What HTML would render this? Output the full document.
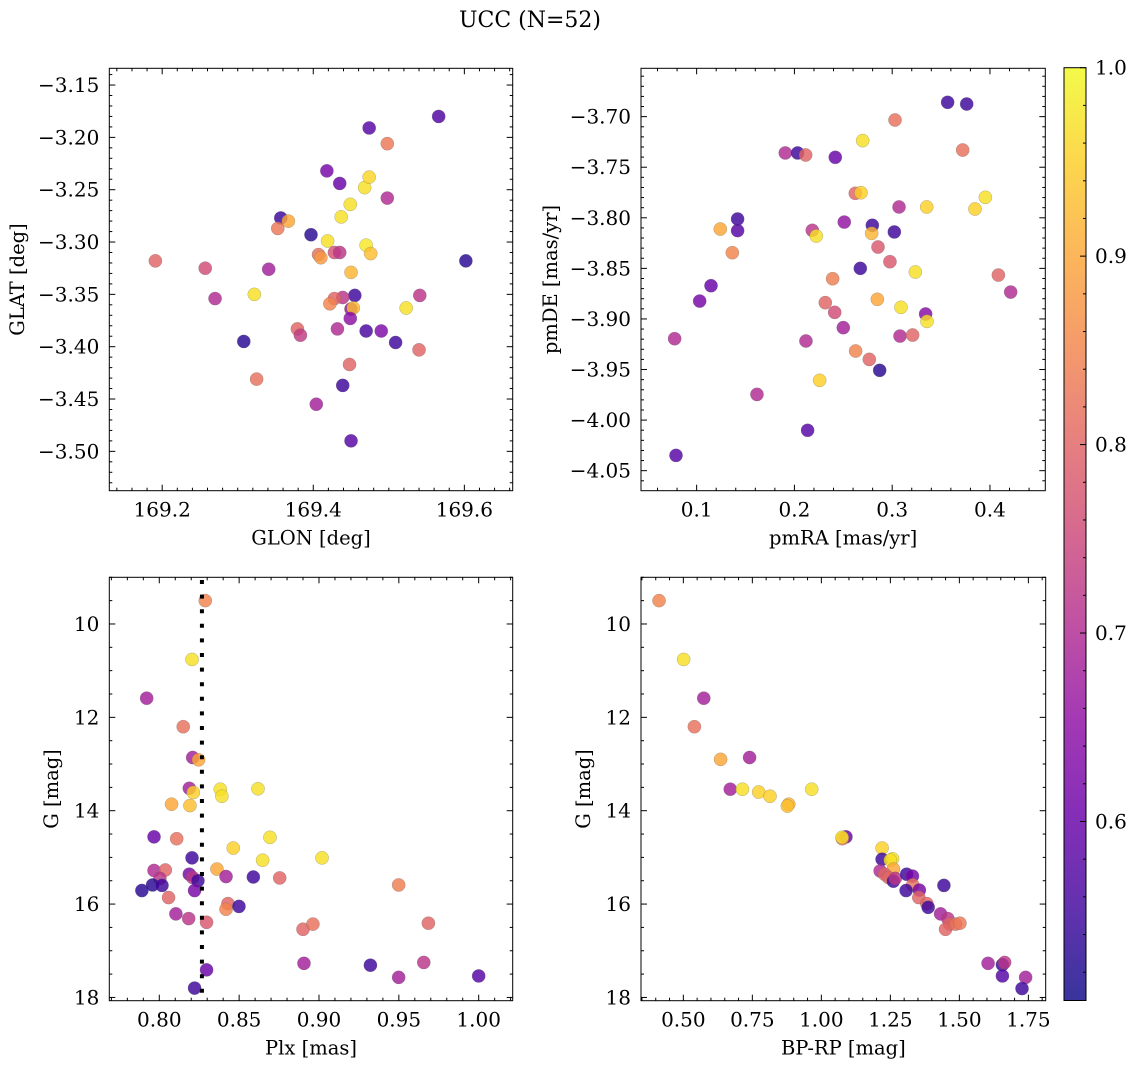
<!DOCTYPE html>
<html><head><meta charset="utf-8"><style>
html,body{margin:0;padding:0;background:#fff;}
svg{display:block;font-family:"DejaVu Serif","Liberation Serif",serif;}
</style></head><body>
<svg id="fig" width="1136" height="1067" xmlns="http://www.w3.org/2000/svg">
<defs>
<linearGradient id="plasma" x1="0" y1="1" x2="0" y2="0">
<stop offset="0" stop-color="#0d0887"/><stop offset="0.1" stop-color="#41049d"/><stop offset="0.2" stop-color="#6a00a8"/><stop offset="0.3" stop-color="#8f0da4"/><stop offset="0.4" stop-color="#b12a90"/><stop offset="0.5" stop-color="#cc4778"/><stop offset="0.6" stop-color="#e16462"/><stop offset="0.7" stop-color="#f2844b"/><stop offset="0.8" stop-color="#fca636"/><stop offset="0.9" stop-color="#fcce25"/><stop offset="1" stop-color="#f0f921"/>
</linearGradient>
</defs>
<text x="530" y="27" font-size="22" text-anchor="middle">UCC (N=52)</text>
</svg>
<script>
// ---- Data: top-left (GLON vs GLAT)
const tlX=[169.191,169.257,169.270,169.341,169.308,169.322,169.325,169.357,169.367,169.353,169.397,169.379,169.383,169.418,169.435,169.419,169.407,169.410,169.428,169.435,169.437,169.449,169.468,169.474,169.474,169.498,169.498,169.470,169.476,169.450,169.455,169.439,169.428,169.422,169.450,169.453,169.449,169.432,169.470,169.490,169.509,169.540,169.541,169.523,169.448,169.439,169.404,169.450,169.566,169.602];
const tlY=[-3.318,-3.325,-3.354,-3.326,-3.395,-3.350,-3.431,-3.277,-3.280,-3.287,-3.293,-3.383,-3.389,-3.232,-3.244,-3.299,-3.312,-3.315,-3.310,-3.310,-3.276,-3.264,-3.248,-3.238,-3.191,-3.206,-3.258,-3.303,-3.311,-3.329,-3.351,-3.353,-3.354,-3.359,-3.364,-3.363,-3.373,-3.383,-3.385,-3.385,-3.396,-3.403,-3.351,-3.363,-3.417,-3.437,-3.455,-3.490,-3.180,-3.318];
const tlC=[0.8,0.76,0.7,0.68,0.53,0.97,0.82,0.55,0.9,0.83,0.53,0.8,0.73,0.62,0.6,0.97,0.82,0.88,0.77,0.72,0.97,0.97,0.97,0.96,0.58,0.83,0.7,0.98,0.93,0.92,0.55,0.72,0.8,0.85,0.65,0.93,0.65,0.7,0.56,0.63,0.55,0.8,0.72,0.97,0.8,0.55,0.68,0.58,0.57,0.53];
// ---- Data: top-right (pmRA vs pmDE)
const trX=[0.0775,0.0789,0.1031,0.1147,0.1242,0.1419,0.1419,0.1365,0.1617,0.1907,0.2033,0.2115,0.2418,0.2183,0.2224,0.2118,0.2135,0.2258,0.2316,0.2412,0.2391,0.2500,0.2510,0.2623,0.2681,0.2698,0.2674,0.2626,0.2766,0.2797,0.2790,0.2855,0.2848,0.2872,0.2977,0.3029,0.3022,0.3070,0.3080,0.3090,0.3209,0.3237,0.3342,0.3356,0.3353,0.3567,0.3762,0.3721,0.3847,0.3953,0.4086,0.4212];
const trY=[-3.9195,-4.0349,-3.8823,-3.8671,-3.8111,-3.8012,-3.8127,-3.8345,-3.9746,-3.7359,-3.7359,-3.7379,-3.7402,-3.8124,-3.8180,-3.9218,-4.0101,-3.9607,-3.8839,-3.8935,-3.8602,-3.9086,-3.8042,-3.7758,-3.7752,-3.7237,-3.8500,-3.9317,-3.9400,-3.8074,-3.8154,-3.8289,-3.8806,-3.9508,-3.8434,-3.7033,-3.8140,-3.7893,-3.9169,-3.8885,-3.9159,-3.8536,-3.8951,-3.9024,-3.7893,-3.6858,-3.6875,-3.7330,-3.7913,-3.7798,-3.8566,-3.8734];
const trC=[0.7,0.58,0.62,0.6,0.9,0.55,0.58,0.85,0.7,0.7,0.55,0.8,0.6,0.72,0.97,0.7,0.58,0.95,0.8,0.76,0.84,0.68,0.66,0.8,0.95,0.97,0.55,0.85,0.8,0.55,0.92,0.78,0.9,0.53,0.78,0.82,0.55,0.7,0.7,0.97,0.8,0.97,0.64,0.97,0.95,0.55,0.55,0.82,0.95,0.97,0.8,0.7];
// ---- Data: bottom-left (Plx vs G)
const blX=[0.8288,0.8205,0.7921,0.8150,0.8209,0.8246,0.8188,0.8213,0.8382,0.8392,0.8618,0.8077,0.8192,0.7967,0.8109,0.8693,0.8463,0.8647,0.9019,0.8205,0.8361,0.7967,0.8038,0.8004,0.8188,0.8209,0.8242,0.8418,0.8589,0.8754,0.7891,0.7958,0.8017,0.8221,0.8058,0.8430,0.8418,0.8499,0.8104,0.8184,0.8296,0.8900,0.8962,0.9499,0.9685,0.8906,0.9322,0.9499,0.9656,1.0000,0.8296,0.8221];
const blY=[9.50,10.76,11.59,12.20,12.86,12.91,13.52,13.61,13.54,13.69,13.53,13.86,13.89,14.56,14.60,14.57,14.80,15.06,15.01,15.01,15.25,15.28,15.27,15.45,15.36,15.43,15.50,15.41,15.42,15.44,15.71,15.59,15.60,15.71,15.86,15.99,16.11,16.05,16.21,16.31,16.39,16.54,16.43,15.59,16.41,17.27,17.31,17.57,17.25,17.54,17.41,17.80];
const blC=[0.85,0.97,0.68,0.82,0.68,0.9,0.68,0.95,0.97,0.97,0.97,0.9,0.93,0.6,0.82,0.97,0.95,0.97,0.97,0.55,0.9,0.7,0.8,0.72,0.62,0.72,0.55,0.68,0.55,0.8,0.53,0.53,0.55,0.62,0.8,0.8,0.85,0.55,0.68,0.72,0.78,0.8,0.82,0.84,0.8,0.68,0.55,0.68,0.72,0.58,0.6,0.55];
const plxLine=0.8267;
// ---- Data: bottom-right (BP-RP vs G)
const brX=[0.412,0.501,0.574,0.540,0.635,0.740,0.670,0.714,0.773,0.814,0.882,0.877,0.965,1.089,1.076,1.075,1.220,1.220,1.258,1.250,1.261,1.213,1.229,1.243,1.261,1.268,1.309,1.330,1.331,1.307,1.355,1.353,1.382,1.387,1.444,1.432,1.458,1.465,1.450,1.486,1.502,1.604,1.656,1.664,1.656,1.740,1.727];
const brY=[9.50,10.76,11.59,12.20,12.90,12.86,13.54,13.54,13.60,13.69,13.86,13.90,13.54,14.56,14.60,14.57,14.80,15.04,15.03,15.06,15.25,15.29,15.36,15.43,15.51,15.45,15.36,15.40,15.59,15.71,15.70,15.86,15.99,16.07,15.60,16.21,16.31,16.43,16.54,16.43,16.41,17.27,17.30,17.25,17.54,17.57,17.81];
const brC=[0.85,0.97,0.68,0.82,0.9,0.68,0.68,0.97,0.95,0.95,0.92,0.93,0.97,0.6,0.82,0.97,0.95,0.55,0.97,0.97,0.9,0.7,0.8,0.8,0.55,0.72,0.55,0.62,0.82,0.55,0.62,0.8,0.8,0.55,0.55,0.68,0.72,0.8,0.8,0.82,0.83,0.68,0.55,0.72,0.58,0.68,0.55];
// ---- Colorbar
const cbMin=0.505, cbMax=1.0;
const cbTicks=[0.6,0.7,0.8,0.9,1.0];

const NS="http://www.w3.org/2000/svg";
const svg=document.getElementById('fig');
const TICKFS=20, LABFS=19.5;
function mk(tag,attrs,parent){const e=document.createElementNS(NS,tag);for(const k in attrs)e.setAttribute(k,attrs[k]);(parent||svg).appendChild(e);return e;}
const stops=[[13,8,135],[65,4,157],[106,0,168],[143,13,164],[177,42,144],[204,71,120],[225,100,98],[242,132,75],[252,166,54],[252,206,37],[240,249,33]];
function plasma(v){let t=(v-cbMin)/(cbMax-cbMin);t=Math.max(0,Math.min(1,t))*10;const i=Math.min(9,Math.floor(t)),f=t-i;const a=stops[i],b=stops[i+1];return 'rgb('+[0,1,2].map(k=>Math.round(a[k]+(b[k]-a[k])*f)).join(',')+')';}
function fmt(v,d){return (v<0?'\u2212':'')+Math.abs(v).toFixed(d);}

function panel(cfg,xs,ys,cs){
  const g=mk('g',{});
  
  
  const sx=v=>cfg.L+(v-cfg.x0)/(cfg.x1-cfg.x0)*(cfg.R-cfg.L);
  const sy=v=>cfg.B-(v-cfg.y0)/(cfg.y1-cfg.y0)*(cfg.B-cfg.T);
  const pts=mk('g',{},g);
  
  
  for(let i=0;i<xs.length;i++){
    const c=mk('circle',{cx:sx(xs[i]).toFixed(2),cy:sy(ys[i]).toFixed(2),r:6.6,fill:plasma(cs[i]),'fill-opacity':0.82,stroke:'#666','stroke-width':0.4,'stroke-opacity':0.6},pts);
    
    
  }
  if(cfg.extra)cfg.extra(g,sx,sy);
  const fr=mk('rect',{x:cfg.L,y:cfg.T,width:cfg.R-cfg.L,height:cfg.B-cfg.T,fill:'none',stroke:'#000','stroke-width':1},g);
  
  
  const tk=mk('g',{stroke:'#000','stroke-width':1},g);
  const xlo=Math.min(cfg.x0,cfg.x1),xhi=Math.max(cfg.x0,cfg.x1);
  for(let k=Math.ceil(xlo/cfg.xmi-1e-6);k*cfg.xmi<=xhi+1e-9;k++){
    const v=k*cfg.xmi,px=sx(v);
    const maj=Math.abs(v/cfg.xma-Math.round(v/cfg.xma))<1e-6;const l=maj?6:3;
    mk('line',{x1:px,x2:px,y1:cfg.B,y2:cfg.B-l},tk);mk('line',{x1:px,x2:px,y1:cfg.T,y2:cfg.T+l},tk);
  }
  const ylo=Math.min(cfg.y0,cfg.y1),yhi=Math.max(cfg.y0,cfg.y1);
  for(let k=Math.ceil(ylo/cfg.ymi-1e-6);k*cfg.ymi<=yhi+1e-9;k++){
    const v=k*cfg.ymi,py=sy(v);
    const maj=Math.abs(v/cfg.yma-Math.round(v/cfg.yma))<1e-6;const l=maj?6:3;
    mk('line',{y1:py,y2:py,x1:cfg.L,x2:cfg.L+l},tk);mk('line',{y1:py,y2:py,x1:cfg.R,x2:cfg.R-l},tk);
  }
  cfg.xticks.forEach(v=>{const t=mk('text',{x:sx(v),y:cfg.B+26,'font-size':TICKFS,'text-anchor':'middle'},g);t.textContent=fmt(v,cfg.xd);
    });
  cfg.yticks.forEach(v=>{const t=mk('text',{x:cfg.L-10,y:sy(v)+7,'font-size':TICKFS,'text-anchor':'end'},g);t.textContent=fmt(v,cfg.yd);
    });
  const xl=mk('text',{x:(cfg.L+cfg.R)/2,y:cfg.B+54,'font-size':LABFS,'text-anchor':'middle'},g);xl.textContent=cfg.xlab;
  
  const yy=(cfg.T+cfg.B)/2;
  const yl=mk('text',{x:cfg.ylx,y:yy,'font-size':LABFS,'text-anchor':'middle',transform:'rotate(-90 '+cfg.ylx+' '+yy+')'},g);yl.textContent=cfg.ylab;
  
}

panel({name:'glon-glat-panel',L:109.3,R:512.7,T:68.3,B:490.7,x0:169.130,x1:169.664,y0:-3.5376,y1:-3.134,xmi:0.02,xma:0.2,ymi:0.01,yma:0.05,
  xticks:[169.2,169.4,169.6],xd:1,yticks:[-3.15,-3.2,-3.25,-3.3,-3.35,-3.4,-3.45,-3.5],yd:2,xlab:'GLON [deg]',ylab:'GLAT [deg]',ylx:24},tlX,tlY,tlC);
panel({name:'pm-panel',L:641,R:1045.3,T:68.3,B:490.7,x0:0.0431,x1:0.4566,y0:-4.0698,y1:-3.6522,xmi:0.02,xma:0.1,ymi:0.01,yma:0.05,
  xticks:[0.1,0.2,0.3,0.4],xd:1,yticks:[-3.7,-3.75,-3.8,-3.85,-3.9,-3.95,-4.0,-4.05],yd:2,xlab:'pmRA [mas/yr]',ylab:'pmDE [mas/yr]',ylx:557},trX,trY,trC);
panel({name:'plx-g-panel',L:109.3,R:512.7,T:577.3,B:1000.7,x0:0.7687,x1:1.0213,y0:18.07,y1:9.0,xmi:0.01,xma:0.05,ymi:0.5,yma:2,
  xticks:[0.80,0.85,0.90,0.95,1.00],xd:2,yticks:[10,12,14,16,18],yd:0,xlab:'Plx [mas]',ylab:'G [mag]',ylx:58,
  extra:(g,sx,sy)=>{const l=mk('line',{x1:sx(plxLine),x2:sx(plxLine),y1:580,y2:1000,stroke:'#000','stroke-width':4,'stroke-dasharray':'4 10.6'},g);
    }},blX,blY,blC);
panel({name:'cmd-panel',L:641,R:1045.7,T:577.3,B:1000.7,x0:0.3466,x1:1.8128,y0:18.07,y1:9.0,xmi:0.05,xma:0.25,ymi:0.5,yma:2,
  xticks:[0.5,0.75,1.0,1.25,1.5,1.75],xd:2,yticks:[10,12,14,16,18],yd:0,xlab:'BP-RP [mag]',ylab:'G [mag]',ylx:590},brX,brY,brC);

// colorbar
const cb=mk('g',{});


const cT=67.7,cB=1000.5,cL=1064,cR=1086;
const cy=v=>cB-(v-cbMin)/(cbMax-cbMin)*(cB-cT);
mk('rect',{x:cL,y:cT,width:cR-cL,height:cB-cT,fill:'url(#plasma)','fill-opacity':0.82,stroke:'#000','stroke-width':1},cb);
for(let k=Math.ceil(cbMin/0.02);k*0.02<=cbMax+1e-9;k++){const v=k*0.02,p=cy(v);const maj=Math.abs(v*10-Math.round(v*10))<1e-6;
  mk('line',{x1:cR,x2:cR-(maj?6:3),y1:p,y2:p,stroke:'#000','stroke-width':1},cb);}
cbTicks.forEach(v=>{const t=mk('text',{x:1095,y:cy(v)+7,'font-size':TICKFS},cb);t.textContent=v.toFixed(1);
  });
</script>
</body></html>
